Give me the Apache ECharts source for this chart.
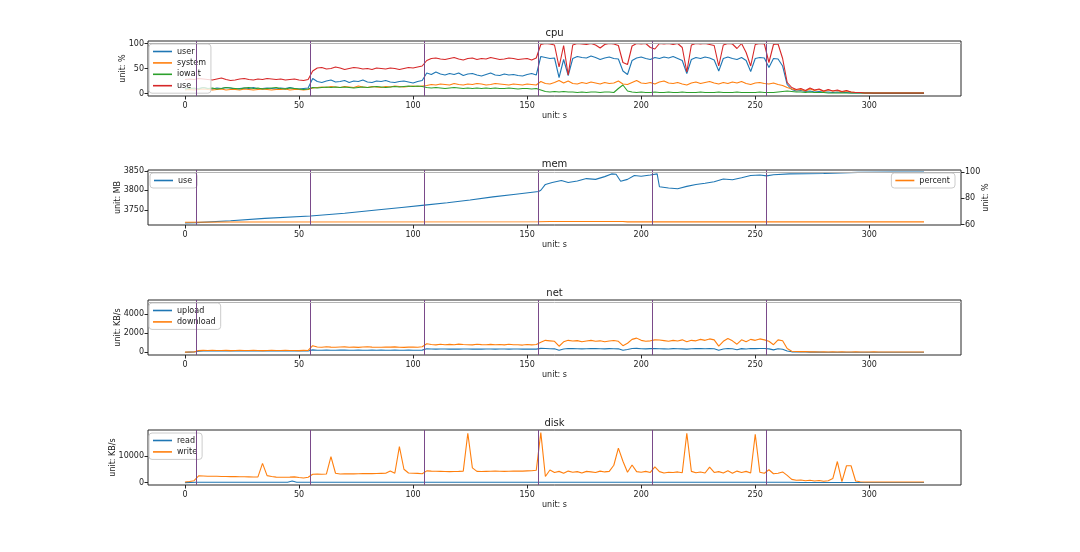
<!DOCTYPE html>
<html>
<head>
<meta charset="utf-8">
<script src="https://cdn.jsdelivr.net/npm/echarts@6/dist/echarts.min.js"></script>
<style>html,body{margin:0;padding:0;background:#fff}#c{width:1080px;height:552px}</style>
</head>
<body>
<div id="c"></div>
<script>
// sample times (s)
const TIME = [0,2,4,6,8,10,12,14,16,18,20,22,24,26,28,30,32,34,36,38,40,42,44,46,48,50,52,54,
56,58,60,62,64,66,68,70,72,74,76,78,80,82,84,86,88,90,92,94,96,98,100,102,104,
106,108,110,112,114,116,118,120,122,124,126,128,130,132,134,136,138,140,142,144,146,148,150,152,154,
156,158,160,162,164,166,168,170,172,174,176,178,180,182,184,186,188,190,192,194,196,198,200,202,204,206,208,210,212,214,216,218,220,222,224,226,228,230,232,234,236,238,240,242,244,246,248,250,252,254,256,258,260,262,264,
266,268,270,272,274,276,278,280,282,284,286,288,290,292,294,296,298,300,302,304,306,308,310,312,314,316,318,320,322,324];

const X_TICKS = [0,50,100,150,200,250,300];
const PHASES = [5,55,105,155,205,255];

// cpu (%)
const CPU_USER = [10,11,9,10,12,10,9,11,10,12,11,9,10,11,10,12,9,10,11,10,9,11,10,12,10,9,10,11,
30,24,22,25,27,23,24,26,22,25,24,27,23,22,25,24,26,23,22,24,25,23,21,24,26,
41,38,43,39,37,40,38,41,36,39,40,37,35,38,41,37,36,39,37,38,36,35,38,40,37,
74,72,70,71,32,68,36,70,74,72,71,75,72,68,71,73,70,69,45,38,66,71,73,70,68,72,70,73,71,74,70,66,40,68,72,70,73,71,67,45,70,73,70,68,72,66,44,70,72,71,52,70,69,55,18,
8,5,6,4,5,3,4,3,3,2,3,2,2,1,1,1,1,1,0,0,0,0,0,0,0,0,0,0,0,0];
const CPU_SYSTEM = [7,8,7,8,9,8,7,8,9,7,8,8,7,9,8,7,8,9,8,7,8,8,9,7,8,8,7,8,
11,12,13,12,14,13,12,14,13,12,15,13,12,14,13,12,14,13,15,14,13,14,15,14,15,
16,18,17,19,18,17,20,18,17,19,18,20,19,17,18,20,19,18,17,19,18,17,19,18,17,
24,20,19,22,26,21,25,20,19,22,20,23,21,19,22,20,21,25,19,18,22,26,21,20,22,19,23,25,21,20,22,19,17,21,23,20,22,24,21,19,22,20,23,21,24,20,18,21,22,20,19,21,18,16,12,
9,7,8,5,9,6,8,4,7,5,6,3,5,3,2,2,1,1,1,1,1,1,1,1,1,1,1,1,1,1];
const CPU_IOWAIT = [9,10,11,9,12,10,11,9,10,12,11,10,9,11,12,10,11,9,10,11,12,10,9,11,10,9,8,9,
12,11,12,13,12,13,12,13,12,11,12,13,12,13,14,13,12,13,14,13,14,15,14,15,14,
12,11,12,11,10,11,12,11,10,11,10,11,10,11,10,11,10,10,11,10,9,10,10,9,10,
7,4,3,4,3,4,3,3,2,3,2,3,3,2,3,3,2,10,17,5,3,2,3,2,2,3,2,2,3,2,2,3,2,2,2,3,2,2,2,3,2,2,2,3,2,2,2,2,3,2,2,2,3,4,5,
4,3,3,2,3,2,2,2,1,1,1,1,1,1,1,1,1,1,1,1,1,1,1,1,1,1,1,1,1,1];
const CPU_USE = [28,29,28,30,29,28,27,29,31,28,26,27,29,30,28,27,29,28,30,29,28,29,27,28,29,27,26,28,
45,51,52,49,50,53,51,48,50,52,51,49,50,48,51,50,49,51,50,48,50,52,51,53,55,
66,70,71,69,68,70,72,69,67,70,71,68,70,69,72,70,68,69,71,70,68,69,70,67,71,
98,100,99,97,53,96,37,97,100,99,98,100,97,91,98,100,99,96,62,58,95,100,99,100,92,89,100,99,100,98,100,92,43,97,100,99,100,98,96,55,97,100,99,90,100,82,55,98,100,99,62,98,99,70,22,
12,8,10,6,11,7,9,5,8,5,7,4,6,3,2,2,1,1,1,1,1,1,1,1,1,1,1,1,1,1];
const CPU_REF = 100;

// mem
const MEM_T   = [0,5,20,35,55,70,85,95,105,115,125,135,145,155,156,158,161,165,168,172,176,180,184,187,189,191,194,197,200,204,207,208,212,216,220,224,228,232,236,240,244,248,252,255,258,265,280,295,310,324];
const MEM_USE = [3716,3717,3722,3728,3734,3741,3750,3756,3762,3768,3775,3783,3790,3797,3800,3815,3820,3825,3820,3824,3830,3828,3835,3842,3841,3823,3828,3838,3836,3839,3842,3809,3806,3804,3810,3815,3818,3822,3829,3827,3832,3838,3839,3837,3840,3842,3843,3846,3847,3847];
const MEM_REF = 3846;
const PCT_T = [0,20,155,160,192,194,324];
const PCT_V = [61.7,61.9,62.1,62.3,62.3,62.0,62.0];

// net (KB/s)
const NET_UP = [20,30,40,130,150,140,160,150,145,140,155,150,160,140,150,145,155,150,140,150,160,145,150,140,155,150,145,150,
260,230,220,240,230,225,240,235,220,230,240,225,230,235,220,240,230,225,235,230,220,240,230,225,235,
380,350,340,360,350,345,355,340,350,360,345,350,340,355,350,345,360,350,340,350,355,345,340,350,345,
420,400,380,370,220,360,400,390,380,370,380,400,390,380,370,390,380,370,220,300,400,420,380,370,390,400,380,370,360,390,380,370,340,380,390,400,380,390,380,220,360,400,380,280,390,360,400,390,410,400,370,260,380,330,150,
60,50,40,40,30,30,30,20,20,20,20,20,20,20,20,20,20,20,20,20,20,20,20,20,20,20,20,20,20,20];
const NET_DOWN = [30,40,50,190,210,200,220,195,205,210,190,200,215,205,195,210,200,190,205,215,200,195,210,205,200,190,210,200,
700,560,540,580,550,530,560,570,540,550,520,560,580,550,530,540,560,550,570,540,520,550,560,540,580,
900,820,780,850,800,830,790,860,820,800,780,840,810,790,830,800,820,780,850,800,790,760,820,780,820,
1050,1250,1200,1150,640,1100,1250,1180,1220,1100,1180,1250,1150,1200,1100,1180,1240,1150,700,950,1350,1480,1250,1150,1200,1300,1280,1220,1150,1250,1180,1300,1100,1250,1200,1350,1250,1400,1300,650,1150,1450,1200,850,1300,1100,1350,1250,1400,1300,1150,800,1300,1200,400,
120,100,80,90,60,70,50,60,50,60,50,60,50,50,60,50,50,50,60,50,50,50,50,50,50,50,50,50,50,50];
const NET_REF = 5170;

// disk (KB/s)
const DISK_WRITE = [200,400,700,2500,2450,2400,2400,2350,2300,2300,2250,2250,2200,2200,2150,2100,2150,7200,2600,2300,2050,2000,2000,2050,2150,1900,1750,2000,
3100,3200,3150,3200,9700,3500,3200,3250,3300,3250,3300,3350,3400,3350,3400,3450,3500,4300,3500,13500,5000,3600,3500,3450,3300,
4400,4300,4250,4200,4150,4100,4150,4200,4300,18500,5500,4200,4150,4200,4250,4300,4250,4200,4250,4300,4350,4300,4400,4450,4600,
18700,2300,4700,3800,4200,3500,4300,3900,4100,3600,4200,4000,3800,4300,4000,4200,6500,12900,8000,3900,6600,4100,3900,4200,3800,5900,4100,3600,3900,3800,4000,3700,18500,4200,3700,4000,3600,5800,3800,4100,3600,4400,3500,4300,3800,4200,3600,18100,3900,3500,4800,3300,3500,4000,2700,
1200,900,1000,700,900,600,800,500,700,1500,7900,400,6300,6300,600,300,200,200,200,200,200,200,200,200,200,200,200,200,200,200];
const READ_T = [0,5,40,45,47,49,55,155,160,265,270,324];
const READ_V = [0,120,120,150,600,150,150,150,150,150,30,30];

const C0='#1f77b4', C1='#ff7f0e', C2='#2ca02c', C3='#d62728';
const FONT = 'DejaVu Sans';
const TXT = '#1a1a1a';
const VCOL = '#7a4a8a';

const pair = (vals) => TIME.map((t,i)=>[t, vals[i]]);
const zip = (xs, ys) => xs.map((x,i)=>[x, ys[i]]);
const plain = (v) => String(v);

const GRID_TOPS = [41,170,300,430];
const GRID_H = 55;

const grids = GRID_TOPS.map(t => ({left:148, right:119, top:t, height:GRID_H, show:true, borderColor:'#262626', borderWidth:1, backgroundColor:'transparent'}));

const xAxes = GRID_TOPS.map((t,i) => ({
  type:'value', gridIndex:i, min:-16.2, max:340.2, position:'bottom',
  name:'unit: s', nameLocation:'middle', nameGap:16, nameMoveOverlap:false,
  nameTextStyle:{fontFamily:FONT, fontSize:8, color:TXT},
  axisLine:{show:false, onZero:false}, splitLine:{show:false},
  axisTick:{show:true, length:3.5, customValues:X_TICKS, lineStyle:{color:'#262626'}},
  axisLabel:{customValues:X_TICKS, formatter:plain, fontFamily:FONT, fontSize:8, color:TXT, margin:6}
}));

function yAx(grid, min, max, ticks, name, gap, pos){
  return {type:'value', gridIndex:grid, min:min, max:max, position:pos||'left',
    name:name, nameLocation:'middle', nameGap:gap, nameRotate:90, nameMoveOverlap:false,
    nameTextStyle:{fontFamily:FONT, fontSize:8, color:TXT},
    axisLine:{show:false, onZero:false}, splitLine:{show:false},
    axisTick:{show:true, length:3.5, customValues:ticks, lineStyle:{color:'#262626'}},
    axisLabel:{customValues:ticks, formatter:plain, fontFamily:FONT, fontSize:8, color:TXT, margin:4}};
}
const CPU_TICKS=[0,50,100], MEM_TICKS=[3750,3800,3850], PCT_TICKS=[60,80,100], NET_TICKS=[0,2000,4000], DISK_TICKS=[0,10000];
const yAxes = [
  yAx(0,-5,105,CPU_TICKS,'unit: %',21),
  yAx(1,3711,3852,MEM_TICKS,'unit: MB',26),
  yAx(1,59.6,101.8,PCT_TICKS,'unit: %',21,'right'),
  yAx(2,-268,5430,NET_TICKS,'unit: KB/s',26),
  yAx(3,-900,19700,DISK_TICKS,'unit: KB/s',31)
];

function vlines(refY){
  const d = PHASES.map(x=>({xAxis:x}));
  if (refY !== undefined) d.push({yAxis:refY, lineStyle:{color:'#b4b4b4', width:1, type:'solid'}});
  return {silent:true, symbol:'none', label:{show:false}, animation:false,
    lineStyle:{color:VCOL, width:1, type:'solid'}, data:d};
}
function line(name, data, color, xi, yi, ml){
  const s = {type:'line', name:name, data:data, xAxisIndex:xi, yAxisIndex:yi, color:color,
    showSymbol:false, symbol:'none', lineStyle:{width:1.1, color:color}, animation:false, z:2};
  if (ml) s.markLine = ml;
  return s;
}

const series = [
  line('user', pair(CPU_USER), C0, 0, 0, vlines(CPU_REF)),
  line('system', pair(CPU_SYSTEM), C1, 0, 0),
  line('iowait', pair(CPU_IOWAIT), C2, 0, 0),
  line('use', pair(CPU_USE), C3, 0, 0),
  line('mem use', zip(MEM_T, MEM_USE), C0, 1, 1, vlines(MEM_REF)),
  line('percent', zip(PCT_T, PCT_V), C1, 1, 2),
  line('upload', pair(NET_UP), C0, 2, 3, vlines(NET_REF)),
  line('download', pair(NET_DOWN), C1, 2, 3),
  line('read', zip(READ_T, READ_V), C0, 3, 4, vlines()),
  line('write', pair(DISK_WRITE), C1, 3, 4)
];

function leg(names, pos, top){
  return Object.assign({orient:'vertical', top:top, data:names, icon:'rect', itemWidth:19, itemHeight:1.6,
    itemGap:2.4, padding:[3,5,3,4], backgroundColor:'rgba(255,255,255,0.8)', borderColor:'#cccccc', borderWidth:1, borderRadius:3,
    selectedMode:false, formatter:(n)=> n==='mem use' ? 'use' : n,
    textStyle:{fontFamily:FONT, fontSize:8, color:TXT, lineHeight:9, padding:[0,0,0,0]}}, pos);
}
const legends = [
  leg(['user','system','iowait','use'], {left:149}, 44),
  leg(['mem use'], {left:150}, 173),
  leg(['percent'], {right:125}, 173),
  leg(['upload','download'], {left:149}, 303),
  leg(['read','write'], {left:149}, 433)
];

const TITLES = ['cpu','mem','net','disk'];
const TITLE_TOPS = [28,159,288,418];
const titles = TITLES.map((t,i)=>({text:t, left:554.5, top:TITLE_TOPS[i], textAlign:'center', padding:0,
  textStyle:{fontFamily:FONT, fontSize:10, fontWeight:'normal', color:TXT}}));

const chart = echarts.init(document.getElementById('c'), null, {renderer:'canvas'});
chart.setOption({animation:false, backgroundColor:'#fff', title:titles, legend:legends, grid:grids, xAxis:xAxes, yAxis:yAxes, series:series});
</script>
</body>
</html>
